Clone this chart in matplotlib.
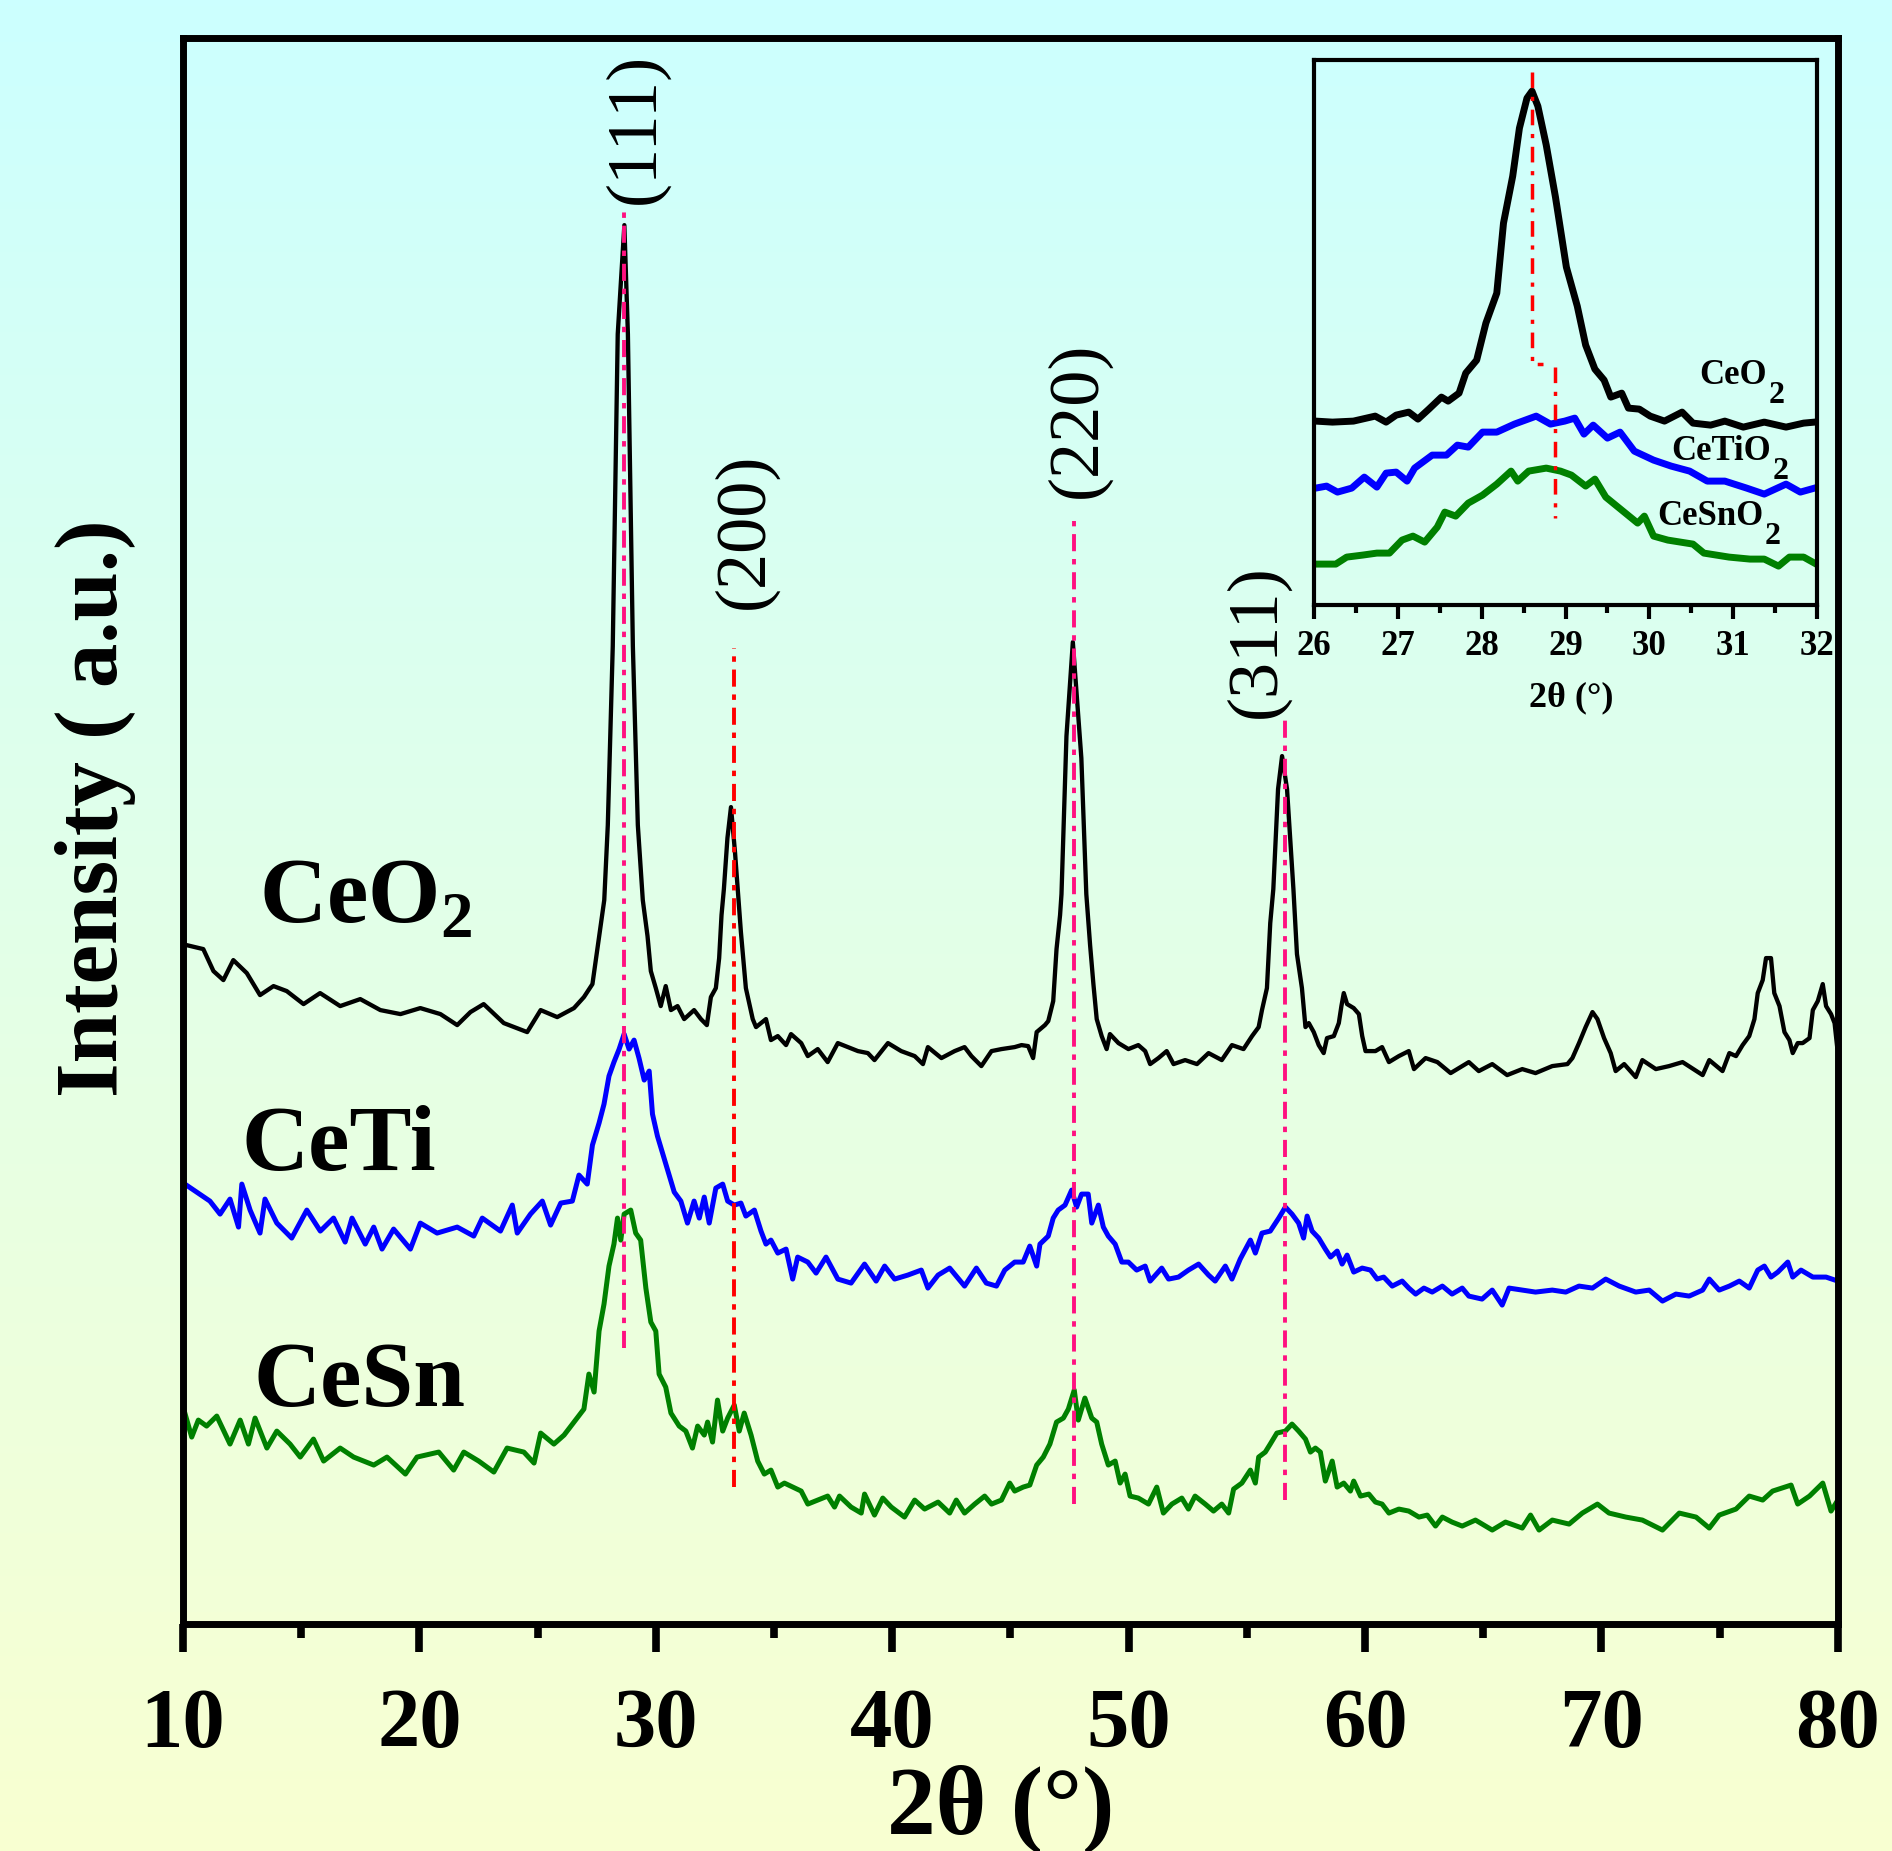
import numpy as np
import matplotlib
matplotlib.use('Agg')
import matplotlib.pyplot as plt
from matplotlib.ticker import MultipleLocator

plt.rcParams['font.family'] = ['Liberation Serif', 'DejaVu Serif']
plt.rcParams['mathtext.fontset'] = 'custom'
plt.rcParams['mathtext.rm'] = 'Liberation Serif'
plt.rcParams['mathtext.bf'] = 'Liberation Serif:bold'

# ---- main pattern data (2theta in degrees, intensity in arbitrary units) ----
ceo2_tt = [10.15, 10.86, 11.29, 11.71, 12.13, 12.70, 13.26, 13.83, 14.39, 15.10, 15.80, 16.65,
           17.50, 18.35, 19.20, 20.04, 20.89, 21.60, 22.16, 22.72, 23.57, 24.56, 25.13, 25.83,
           26.54, 26.96, 27.32, 27.53, 27.82, 27.97, 28.18, 28.39, 28.67, 28.82, 29.03, 29.24,
           29.45, 29.65, 29.79, 30.00, 30.21, 30.42, 30.64, 30.92, 31.20, 31.62, 31.91, 32.16,
           32.33, 32.54, 32.68, 32.78, 32.88, 33.03, 33.18, 33.35, 33.50, 33.60, 33.81, 34.10,
           34.24, 34.45, 34.66, 34.87, 35.16, 35.51, 35.72, 36.15, 36.43, 36.85, 37.27, 37.70,
           38.12, 38.55, 38.97, 39.25, 39.82, 40.38, 40.95, 41.30, 41.51, 42.08, 42.64, 43.06,
           43.35, 43.77, 44.20, 44.62, 45.18, 45.47, 45.75, 45.96, 46.11, 46.46, 46.60, 46.81,
           46.95, 47.10, 47.16, 47.37, 47.64, 48.00, 48.21, 48.37, 48.51, 48.65, 48.86, 49.07,
           49.21, 49.57, 49.99, 50.41, 50.70, 50.91, 51.26, 51.61, 51.90, 52.39, 52.89, 53.38,
           53.94, 54.37, 54.86, 55.22, 55.50, 55.64, 55.85, 55.99, 56.12, 56.32, 56.49, 56.70,
           56.97, 57.12, 57.33, 57.48, 57.62, 57.83, 58.04, 58.25, 58.39, 58.68, 58.89, 59.00,
           59.10, 59.24, 59.52, 59.74, 59.88, 60.02, 60.44, 60.72, 61.01, 61.43, 61.85, 62.07,
           62.56, 63.06, 63.62, 64.39, 64.81, 65.38, 66.01, 66.65, 67.21, 67.92, 68.56, 68.77,
           69.05, 69.33, 69.62, 69.83, 70.11, 70.39, 70.60, 70.96, 71.45, 71.73, 72.30, 72.86,
           73.43, 74.28, 74.56, 75.12, 75.41, 75.69, 75.97, 76.25, 76.47, 76.61, 76.82, 76.96,
           77.17, 77.31, 77.53, 77.74, 77.95, 78.09, 78.30, 78.51, 78.80, 78.94, 79.15, 79.36,
           79.50, 79.71, 79.86, 79.97]
ceo2_int = [679, 675, 653, 644, 664, 651, 629, 638, 633, 620, 631, 618,
            625, 614, 610, 616, 610, 599, 612, 620, 601, 592, 614, 607,
            616, 627, 640, 675, 724, 799, 978, 1290, 1399, 1290, 978, 799,
            724, 688, 653, 636, 618, 638, 614, 618, 605, 614, 605, 599,
            627, 636, 666, 709, 735, 786, 817, 772, 724, 692, 636, 605,
            597, 601, 605, 584, 588, 579, 590, 581, 568, 575, 562, 581,
            577, 573, 571, 564, 581, 573, 568, 560, 577, 566, 573, 577,
            568, 558, 573, 575, 577, 579, 578, 566, 592, 599, 603, 623,
            675, 709, 730, 888, 982, 866, 730, 679, 640, 605, 588, 575,
            590, 581, 575, 579, 573, 560, 566, 573, 560, 564, 560, 571,
            564, 579, 575, 588, 597, 614, 636, 701, 735, 835, 868, 835,
            735, 670, 636, 597, 601, 592, 579, 571, 586, 588, 601, 618,
            631, 620, 616, 610, 588, 573, 573, 577, 562, 568, 573, 555,
            566, 562, 551, 562, 553, 560, 549, 555, 551, 558, 560, 566,
            581, 597, 612, 605, 586, 571, 553, 560, 547, 564, 555, 558,
            562, 549, 564, 553, 571, 568, 579, 588, 605, 631, 644, 666,
            666, 631, 618, 592, 584, 571, 581, 581, 586, 614, 623, 640,
            618, 610, 601, 577]

ceti_tt = [10.08, 10.58, 11.14, 11.57, 11.99, 12.35, 12.49, 12.84, 13.26, 13.47, 13.97, 14.60,
           15.24, 15.81, 16.37, 16.86, 17.15, 17.71, 18.07, 18.42, 18.91, 19.62, 20.04, 20.75,
           21.60, 22.30, 22.66, 23.43, 23.93, 24.14, 24.70, 25.20, 25.55, 25.98, 26.47, 26.75,
           27.10, 27.32, 27.60, 27.81, 28.02, 28.23, 28.45, 28.66, 28.87, 29.08, 29.29, 29.51,
           29.72, 29.86, 30.07, 30.35, 30.57, 30.78, 31.06, 31.34, 31.62, 31.84, 32.05, 32.26,
           32.54, 32.83, 33.04, 33.32, 33.60, 33.81, 34.17, 34.45, 34.66, 34.87, 35.16, 35.51,
           35.79, 36.00, 36.43, 36.78, 37.20, 37.70, 38.26, 38.83, 39.32, 39.68, 40.10, 40.66,
           41.23, 41.51, 41.94, 42.43, 43.06, 43.56, 43.98, 44.41, 44.76, 45.18, 45.54, 45.82,
           46.11, 46.25, 46.60, 46.81, 47.02, 47.31, 47.59, 47.80, 48.01, 48.29, 48.44, 48.72,
           48.93, 49.14, 49.43, 49.71, 49.99, 50.34, 50.70, 50.91, 51.40, 51.69, 52.11, 52.53,
           52.96, 53.38, 53.66, 54.09, 54.37, 54.72, 55.15, 55.36, 55.64, 55.99, 56.35, 56.63,
           56.91, 57.19, 57.40, 57.55, 57.76, 58.04, 58.32, 58.54, 58.82, 59.03, 59.24, 59.52,
           59.88, 60.23, 60.51, 60.79, 61.15, 61.57, 61.85, 62.14, 62.49, 62.84, 63.27, 63.68,
           64.11, 64.39, 64.95, 65.38, 65.80, 66.09, 66.65, 67.21, 67.92, 68.49, 69.05, 69.62,
           70.18, 70.75, 71.45, 72.02, 72.58, 73.15, 73.71, 74.28, 74.56, 74.98, 75.41, 75.83,
           76.25, 76.61, 76.89, 77.17, 77.46, 77.88, 78.09, 78.44, 78.94, 79.50, 80.00]
ceti_int = [440, 432, 423, 410, 425, 397, 440, 414, 391, 425, 401, 386,
            414, 393, 406, 382, 406, 380, 397, 375, 395, 375, 401, 391,
            397, 388, 406, 393, 419, 391, 410, 423, 399, 421, 423, 449,
            440, 479, 501, 520, 548, 562, 575, 590, 575, 584, 566, 544,
            553, 510, 488, 466, 449, 432, 423, 401, 423, 406, 427, 401,
            436, 440, 423, 419, 421, 408, 414, 393, 380, 384, 371, 375,
            345, 367, 362, 351, 367, 345, 341, 360, 343, 358, 345, 349,
            354, 336, 349, 356, 338, 356, 341, 338, 354, 362, 362, 378,
            358, 380, 388, 406, 414, 419, 434, 417, 430, 430, 401, 419,
            397, 388, 380, 362, 362, 354, 358, 343, 356, 345, 347, 354,
            360, 349, 343, 358, 345, 365, 384, 371, 391, 393, 406, 417,
            410, 401, 386, 408, 393, 386, 375, 367, 373, 360, 369, 352,
            356, 354, 345, 347, 338, 343, 336, 330, 336, 332, 338, 330,
            336, 328, 325, 334, 319, 336, 334, 332, 334, 332, 338, 336,
            345, 338, 332, 334, 323, 330, 328, 334, 345, 334, 338, 343,
            336, 354, 358, 347, 352, 362, 347, 354, 347, 347, 343]

cesn_tt = [10.08, 10.37, 10.65, 11.00, 11.43, 11.99, 12.42, 12.77, 13.05, 13.55, 13.97, 14.53,
           14.96, 15.52, 15.95, 16.65, 17.22, 18.07, 18.63, 19.41, 19.90, 20.82, 21.45, 21.88,
           22.51, 23.15, 23.71, 24.42, 24.85, 25.13, 25.69, 26.12, 26.54, 26.96, 27.17, 27.39,
           27.60, 27.81, 28.02, 28.23, 28.38, 28.52, 28.66, 28.94, 29.15, 29.36, 29.58, 29.79,
           30.00, 30.14, 30.42, 30.64, 30.99, 31.27, 31.55, 31.77, 32.05, 32.19, 32.40, 32.61,
           32.83, 33.04, 33.32, 33.53, 33.74, 34.03, 34.31, 34.59, 34.87, 35.16, 35.44, 35.79,
           36.15, 36.43, 36.85, 37.27, 37.56, 37.77, 38.26, 38.69, 38.83, 39.25, 39.60, 39.96,
           40.52, 40.95, 41.37, 41.94, 42.43, 42.71, 43.06, 43.49, 43.91, 44.20, 44.62, 44.97,
           45.18, 45.54, 45.82, 46.11, 46.39, 46.67, 46.95, 47.24, 47.45, 47.70, 47.87, 48.15,
           48.44, 48.65, 48.86, 49.14, 49.43, 49.64, 49.85, 50.06, 50.41, 50.84, 51.19, 51.47,
           51.83, 52.25, 52.53, 52.81, 53.24, 53.59, 53.94, 54.23, 54.44, 54.79, 55.15, 55.36,
           55.50, 55.78, 55.99, 56.27, 56.63, 56.91, 57.19, 57.48, 57.69, 57.90, 58.11, 58.32,
           58.61, 58.82, 59.10, 59.38, 59.52, 59.81, 60.16, 60.44, 60.72, 61.01, 61.43, 61.85,
           62.28, 62.63, 62.98, 63.27, 63.68, 64.11, 64.67, 65.38, 65.94, 66.65, 67.00, 67.36,
           67.92, 68.63, 69.19, 69.83, 70.32, 71.03, 71.73, 72.58, 73.29, 74.00, 74.56, 74.98,
           75.69, 76.25, 76.82, 77.24, 78.02, 78.30, 78.80, 79.36, 79.71, 80.00]
cesn_int = [211, 187, 204, 198, 208, 180, 204, 180, 206, 176, 193, 180,
            167, 185, 163, 176, 167, 159, 167, 150, 167, 172, 154, 172,
            163, 152, 176, 172, 161, 191, 180, 189, 202, 215, 250, 232,
            293, 320, 358, 380, 406, 384, 410, 414, 391, 384, 336, 302,
            293, 250, 237, 211, 198, 193, 176, 198, 189, 202, 182, 224,
            193, 206, 219, 193, 211, 189, 163, 150, 154, 137, 141, 137,
            133, 120, 124, 128, 117, 128, 117, 111, 130, 109, 126, 117,
            107, 124, 115, 122, 111, 124, 111, 120, 128, 120, 124, 141,
            133, 137, 139, 159, 167, 180, 202, 206, 215, 234, 204, 226,
            206, 202, 180, 159, 163, 141, 150, 128, 126, 120, 137, 111,
            120, 126, 115, 128, 120, 113, 120, 111, 135, 141, 154, 141,
            167, 172, 180, 191, 193, 200, 193, 185, 172, 176, 172, 143,
            163, 137, 141, 133, 143, 128, 130, 122, 120, 111, 115, 113,
            107, 109, 98, 107, 102, 98, 104, 94, 102, 96, 109, 94,
            104, 100, 111, 120, 111, 107, 104, 94, 111, 107, 96, 109,
            115, 128, 124, 133, 139, 120, 128, 141, 113, 124]

sample_names = ['CeO$_\\mathbf{2}$', 'CeTi', 'CeSn']
sample_x = [13.2, 12.46, 12.97]
sample_y = [701, 454, 218]

# reflections: position, line span, label position
hkl_labels = ['(111)', '(200)', '(220)', '(311)']
hkl_pos = [28.65, 33.30, 47.68, 56.62]
hkl_top = [1419, 976, 1103, 910]
hkl_bottom = [276, 137, 120, 124]
hkl_label_x = [29.15, 33.80, 47.88, 55.42]
hkl_label_y = [1496, 1093, 1204, 983]
hkl_colors = ['#FF1080', '#FF0000', '#FF1080', '#FF1080']

# ---- inset data (zoom on the (111) reflection) ----
in_ceo2_tt = [26.02, 26.22, 26.47, 26.73, 26.86, 26.98, 27.13, 27.24, 27.37, 27.52, 27.60, 27.73,
              27.81, 27.94, 28.05, 28.18, 28.26, 28.37, 28.45, 28.54, 28.60, 28.67, 28.77, 28.88,
              29.01, 29.14, 29.24, 29.35, 29.46, 29.54, 29.67, 29.75, 29.88, 30.01, 30.18, 30.39,
              30.52, 30.73, 30.90, 31.12, 31.37, 31.63, 31.84, 31.97]
in_ceo2_int = [184, 183, 184, 189, 183, 190, 193, 186, 196, 208, 204, 212,
               232, 245, 282, 312, 382, 429, 477, 507, 514, 499, 460, 408,
               338, 299, 260, 236, 225, 208, 212, 197, 196, 189, 184, 193,
               182, 180, 184, 178, 183, 178, 182, 183]
in_ceti_tt = [26.02, 26.15, 26.28, 26.45, 26.60, 26.75, 26.86, 26.98, 27.11, 27.20, 27.41, 27.58,
              27.71, 27.84, 28.01, 28.18, 28.39, 28.65, 28.82, 28.99, 29.11, 29.22, 29.33, 29.50,
              29.65, 29.82, 30.05, 30.26, 30.48, 30.69, 30.90, 31.16, 31.37, 31.63, 31.80, 31.97]
in_ceti_int = [117, 119, 113, 117, 128, 118, 132, 133, 124, 137, 150, 150,
               160, 158, 173, 173, 181, 189, 181, 184, 187, 171, 180, 167,
               173, 154, 145, 139, 134, 124, 124, 117, 111, 121, 113, 117]
in_cesn_tt = [26.02, 26.26, 26.39, 26.58, 26.75, 26.90, 27.05, 27.18, 27.32, 27.47, 27.56, 27.69,
              27.84, 28.01, 28.18, 28.35, 28.43, 28.56, 28.77, 28.94, 29.07, 29.24, 29.35, 29.48,
              29.67, 29.86, 29.94, 30.05, 30.22, 30.52, 30.65, 30.95, 31.20, 31.37, 31.54, 31.67,
              31.84, 31.99]
in_cesn_int = [41, 41, 48, 50, 52, 52, 65, 69, 63, 78, 93, 89,
               102, 110, 121, 134, 124, 134, 137, 134, 130, 119, 126, 108,
               95, 82, 89, 69, 65, 61, 52, 48, 46, 46, 39, 48,
               48, 41]
in_names = ['CeO', 'CeTiO', 'CeSnO']
in_name_x = [30.60, 30.26, 30.09]
in_name_y = [221, 145, 80]

# ---- figure ----
fig = plt.figure(figsize=(18.92, 18.51), dpi=100)

# gradient background (cyan at the top fading to pale yellow)
top_col = np.array([0.80, 1.00, 1.00])
bot_col = np.array([0.975, 1.00, 0.82])
t = np.linspace(0, 1, 256)[:, None]
grad = (top_col * (1 - t) + bot_col * t)[:, None, :]
bg = fig.add_axes([0, 0, 1, 1], zorder=-10)
bg.imshow(grad, aspect='auto', extent=[0, 1, 0, 1])
bg.axis('off')

ax = fig.add_axes([0.0967, 0.1226, 0.8747, 0.8568])
ax.patch.set_alpha(0)

ax.plot(ceo2_tt, ceo2_int, color='black', lw=3.1, zorder=2)
ax.plot(ceti_tt, ceti_int, color='#0000FF', lw=3.6, zorder=2)
ax.plot(cesn_tt, cesn_int, color='#008000', lw=3.6, zorder=2)

for pos, y0, y1, c in zip(hkl_pos, hkl_bottom, hkl_top, hkl_colors):
    ax.plot([pos, pos], [y0, y1], color=c, lw=2.8, dashes=(4.4, 2.0, 1.4, 2.0), zorder=3)
for lab, x, y in zip(hkl_labels, hkl_label_x, hkl_label_y):
    ax.text(x, y, lab, rotation=90, ha='center', va='center', fontsize=52)

for name, x, y in zip(sample_names, sample_x, sample_y):
    ax.text(x, y, name, ha='left', va='baseline', fontsize=67, fontweight='bold')

ax.set_xlim(10, 80)
ax.set_ylim(0, 1586)
ax.set_yticks([])
ax.xaxis.set_major_locator(MultipleLocator(10))
ax.xaxis.set_minor_locator(MultipleLocator(5))
ax.tick_params(axis='x', which='major', direction='out', length=20, width=5.5, pad=26,
               labelsize=61)
ax.tick_params(axis='x', which='minor', direction='out', length=10, width=5.5)
for lab in ax.get_xticklabels():
    lab.set_fontweight('bold')
for sp in ax.spines.values():
    sp.set_linewidth(5)

fig.text(1001 / 1892, 1 - 1833 / 1851, '2θ (°)', ha='center', va='baseline',
         fontsize=70, fontweight='bold')
fig.text(95 / 1892, 1 - 808 / 1851, 'Intensity ( a.u.)', rotation=90, ha='center',
         va='center', fontsize=64, fontweight='bold')

# ---- inset ----
axin = fig.add_axes([0.6945, 0.6731, 0.2659, 0.2944])
axin.patch.set_alpha(0)
axin.plot(in_ceo2_tt, in_ceo2_int, color='black', lw=5, zorder=2)
axin.plot(in_ceti_tt, in_ceti_int, color='#0000FF', lw=5, zorder=2)
axin.plot(in_cesn_tt, in_cesn_int, color='#008000', lw=5, zorder=2)
axin.plot([28.60, 28.60, 28.73], [533, 241, 241], color='#FF0000', lw=2.5,
          dashes=(4.5, 2.5, 1.2, 2.5), zorder=3)
axin.plot([28.88, 28.88], [238, 87], color='#FF0000', lw=2.5,
          dashes=(4.5, 2.5, 1.2, 2.5), zorder=3)
for name, x, y in zip(in_names, in_name_x, in_name_y):
    t_main = axin.text(x, y, name, ha='left', va='baseline', fontsize=25, fontweight='bold')
    # large, well-lowered subscript "2" as drawn in the original
    axin.annotate('2', xy=(1, 0), xycoords=t_main, xytext=(1, -8), textcoords='offset points',
                  ha='left', va='baseline', fontsize=23, fontweight='bold')
axin.set_xlim(26, 32)
axin.set_ylim(0, 545)
axin.set_yticks([])
axin.xaxis.set_major_locator(MultipleLocator(1))
axin.xaxis.set_minor_locator(MultipleLocator(0.5))
axin.tick_params(axis='x', which='major', direction='out', length=10, width=3, pad=8,
                 labelsize=25)
axin.tick_params(axis='x', which='minor', direction='out', length=6, width=3)
for lab in axin.get_xticklabels():
    lab.set_fontweight('bold')
for sp in axin.spines.values():
    sp.set_linewidth(3)
fig.text(1571 / 1892, 1 - 698 / 1851, '2θ (°)', ha='center', va='center',
         fontsize=26, fontweight='bold')

fig.savefig('out.png', dpi=100)
